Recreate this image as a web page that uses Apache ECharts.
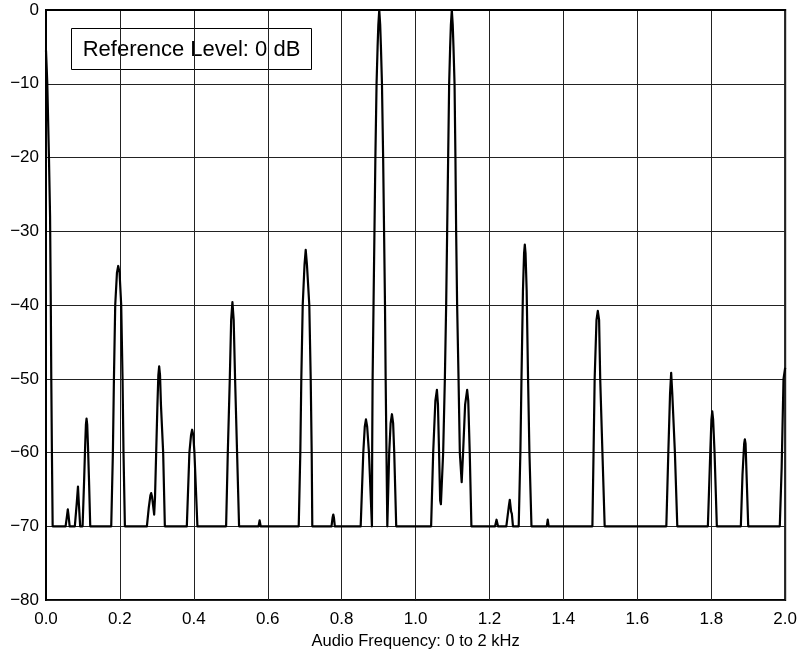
<!DOCTYPE html>
<html>
<head>
<meta charset="utf-8">
<script src="https://cdn.jsdelivr.net/npm/echarts@6/dist/echarts.min.js"></script>
<style>
html,body{margin:0;padding:0;background:#fff;}
#chart{width:800px;height:655px;}
</style>
</head>
<body>
<div id="chart"></div>
<script>
// Frequency (kHz) of each trace point
const freqs = [
  0, 0.002, 0.0035, 0.008, 0.011, 0.013, 0.0143, 0.016, 0.018,
  0.053, 0.057, 0.059, 0.061, 0.064,
  0.078, 0.083, 0.0865, 0.089, 0.0925,
  0.099, 0.103, 0.106, 0.108, 0.1097, 0.1115, 0.1135, 0.1165, 0.1197,
  0.1765, 0.181, 0.1838, 0.1873, 0.192, 0.1954, 0.199, 0.2035, 0.2071, 0.2097, 0.2135,
  0.273, 0.278, 0.2825, 0.2846, 0.287, 0.2927, 0.295, 0.2981, 0.3015, 0.304, 0.3062, 0.3085, 0.311, 0.317, 0.3216,
  0.381, 0.388, 0.3925, 0.3954, 0.3985, 0.4016, 0.4097,
  0.4873, 0.4919, 0.4973, 0.501, 0.5044, 0.5078, 0.5116, 0.517, 0.5224,
  0.575, 0.578, 0.581,
  0.6838, 0.6881, 0.6908, 0.6946, 0.6995, 0.7027, 0.706, 0.7124, 0.7162, 0.7189, 0.7205,
  0.7725, 0.7755, 0.7773, 0.779, 0.7815,
  0.8514, 0.8585, 0.8625, 0.8657, 0.869, 0.8738, 0.8819,
  0.8825, 0.8837, 0.8862, 0.8887, 0.8912, 0.8944, 0.8972, 0.8992, 0.9017, 0.9042, 0.9062, 0.909, 0.9122, 0.9147, 0.9172, 0.919, 0.9212, 0.9235,
  0.9286, 0.9325, 0.936, 0.9392, 0.9422, 0.9476,
  1.042, 1.0476, 1.0535, 1.0577, 1.0605, 1.0635, 1.0665, 1.0685,
  1.0746, 1.0792, 1.0827, 1.0854, 1.0881, 1.0908, 1.0935, 1.0955, 1.098, 1.1005, 1.1025, 1.1054, 1.1078, 1.1097, 1.1124, 1.1162, 1.1197, 1.1247,
  1.1285, 1.134, 1.1395, 1.1425, 1.1465, 1.151,
  1.215, 1.219, 1.223,
  1.2455, 1.2525, 1.2549, 1.2585, 1.2605, 1.2635,
  1.279, 1.2835, 1.2865, 1.2905, 1.2935, 1.2955, 1.2975, 1.3005, 1.3043, 1.308, 1.3135,
  1.355, 1.3575, 1.360,
  1.4784, 1.4815, 1.4845, 1.4895, 1.493, 1.4965, 1.4995, 1.5055, 1.5116,
  1.6784, 1.6838, 1.6885, 1.6915, 1.6945, 1.7016, 1.7081,
  1.7908, 1.7973, 1.8005, 1.8027, 1.805, 1.8089, 1.8151,
  1.88, 1.8845, 1.889, 1.8908, 1.8928, 1.8955, 1.9,
  1.9854, 1.9905, 1.9955, 2.0
];
// Level (dB) of each trace point
const levels = [
  -5.5, -8, -10, -20, -28, -40, -50, -60, -70,
  -70, -68.5, -67.7, -68.5, -70,
  -70, -67, -64.6, -67, -70,
  -70, -64, -59, -56.2, -55.4, -56.2, -59, -64, -70,
  -70, -60, -50, -40, -35.6, -34.7, -35.6, -40, -50, -60, -70,
  -70, -67.5, -65.8, -65.5, -66, -68.4, -66, -60, -53.5, -49.5, -48.3, -49.5, -53.5, -60, -70,
  -70, -60, -57.6, -56.9, -57.6, -60, -70,
  -70, -60, -50, -42, -39.6, -42, -50, -60, -70,
  -70, -69.2, -70,
  -70, -60, -50, -40, -34.5, -32.5, -34.5, -40, -50, -60, -70,
  -70, -68.8, -68.4, -68.8, -70,
  -70, -60, -56.5, -55.5, -56.5, -60, -70,
  -60, -50, -40, -30, -20, -10, -5, -2, 0, -2, -5, -10, -20, -30, -40, -50, -60, -70,
  -60, -56, -54.8, -56, -60, -70,
  -70, -60, -53, -51.5, -53.5, -60, -66.5, -67,
  -60, -50, -40, -30, -20, -10, -5, -2, 0, -2, -5, -10, -20, -30, -40, -50, -60, -64,
  -60, -53.5, -51.5, -53, -60, -70,
  -70, -69.1, -70,
  -70, -67.2, -66.4, -68, -68.3, -70,
  -70, -60, -50, -38, -33, -31.8, -33, -38, -50, -60, -70,
  -70, -69.1, -70,
  -70, -60, -50, -42, -40.8, -42, -50, -60, -70,
  -70, -60, -52, -49.2, -52, -60, -70,
  -70, -60, -55.5, -54.4, -55.5, -60, -70,
  -70, -63, -58.8, -58.2, -58.8, -63, -70,
  -70, -62, -50, -48.5
];
const xTicks = [0, 0.2, 0.4, 0.6, 0.8, 1.0, 1.2, 1.4, 1.6, 1.8, 2.0];
const yTicks = [-80, -70, -60, -50, -40, -30, -20, -10, 0];
const xTitle = 'Audio Frequency: 0 to 2 kHz';
const noteText = 'Reference Level: 0 dB';

const points = freqs.map((f, i) => [f, levels[i]]);
const FONT = '"Liberation Sans", Arial, Helvetica, sans-serif';

const chart = echarts.init(document.getElementById('chart'), null, {renderer: 'canvas'});
chart.setOption({
  animation: false,
  backgroundColor: '#fff',
  grid: {left: 46, right: 14, top: 10, bottom: 54, show: true, borderColor: '#000', borderWidth: 2, backgroundColor: 'transparent', containLabel: false},
  xAxis: {
    type: 'value', min: xTicks[0], max: xTicks[xTicks.length - 1], interval: 0.2,
    name: xTitle, nameLocation: 'middle', nameGap: 31,
    nameTextStyle: {color: '#000', fontSize: 16.5, fontFamily: FONT},
    axisLine: {show: true, lineStyle: {color: '#000', width: 2}},
    axisTick: {show: false},
    axisLabel: {color: '#000', fontSize: 17, fontFamily: FONT, margin: 11, formatter: v => v.toFixed(1)},
    splitLine: {show: true, lineStyle: {color: '#222', width: 1}}
  },
  yAxis: {
    type: 'value', min: yTicks[0], max: yTicks[yTicks.length - 1], interval: 10,
    axisLine: {show: true, lineStyle: {color: '#000', width: 2}},
    axisTick: {show: false},
    axisLabel: {color: '#000', fontSize: 17, fontFamily: FONT, margin: 7, formatter: v => v === 0 ? '0' : (v < 0 ? '\u2212' + Math.abs(v) : String(v))},
    splitLine: {show: true, lineStyle: {color: '#222', width: 1}}
  },
  series: [{
    type: 'line', data: points, showSymbol: false, symbol: 'none', smooth: false,
    lineStyle: {color: '#000', width: 2.2, join: 'round'},
    clip: true, z: 5
  }],
  graphic: [{
    type: 'group', left: 71, top: 28, z: 10,
    children: [
      {type: 'rect', shape: {x: 0, y: 0, width: 240, height: 41}, style: {fill: '#fff', stroke: '#000', lineWidth: 1}},
      {type: 'text', x: 120, y: 21, style: {text: noteText, fill: '#000', font: '22px ' + FONT, textAlign: 'center', textVerticalAlign: 'middle'}}
    ]
  }]
});
</script>
</body>
</html>
